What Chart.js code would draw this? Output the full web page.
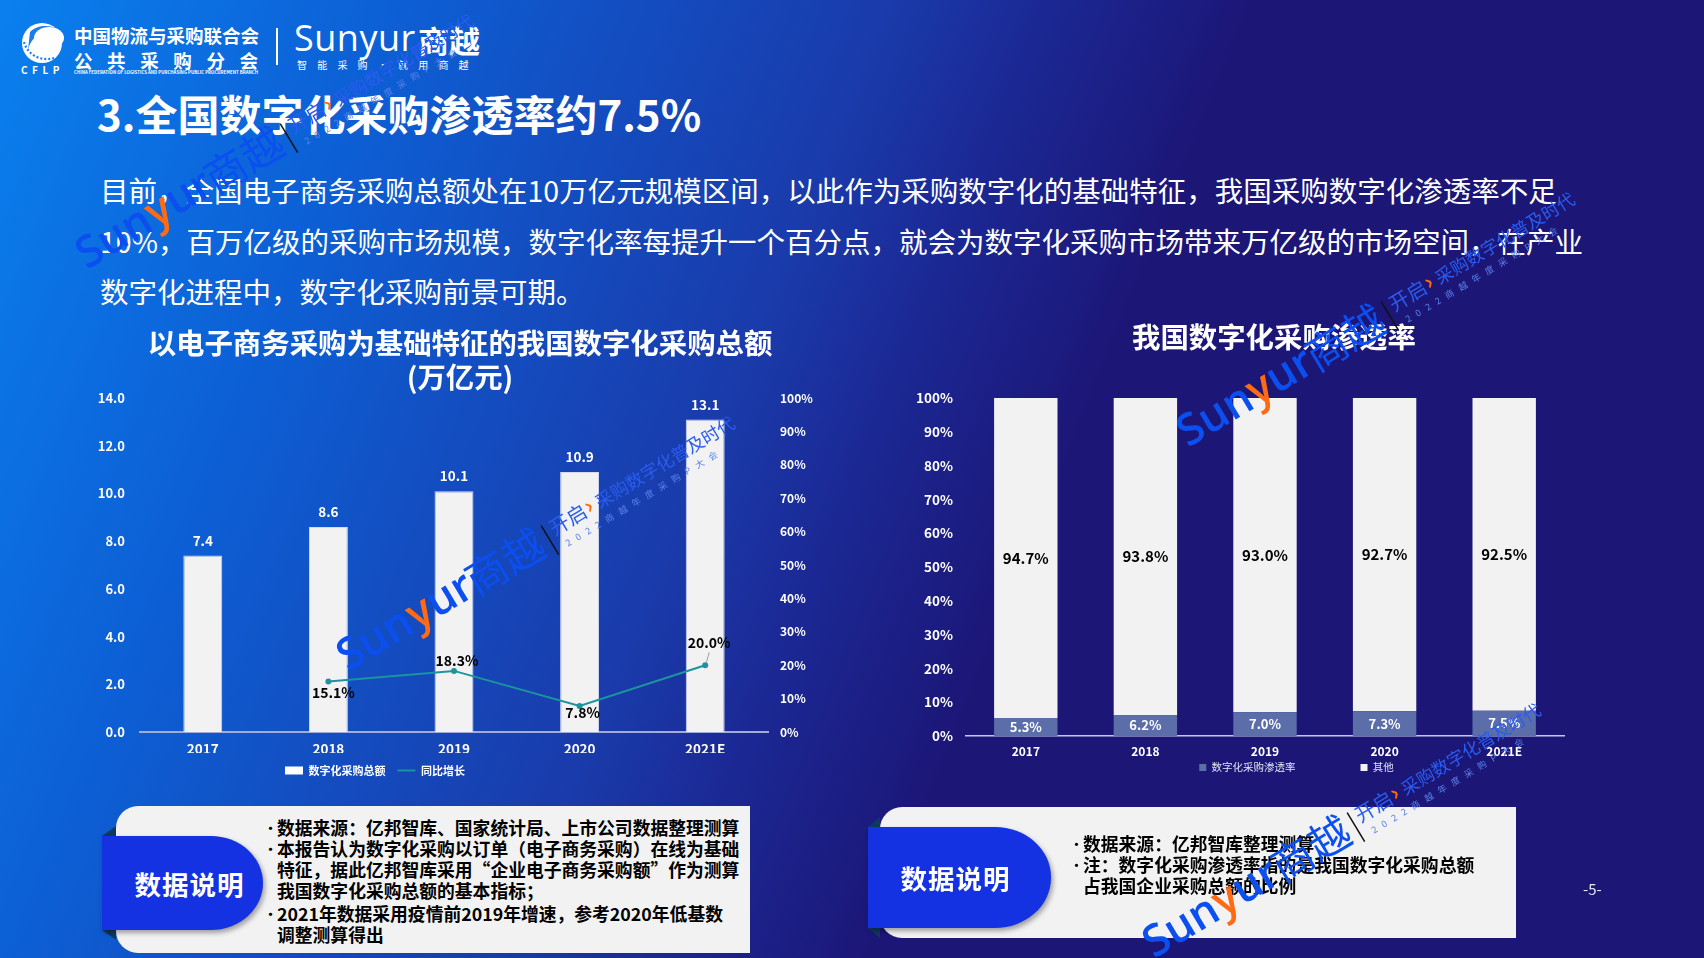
<!DOCTYPE html>
<html><head><meta charset="utf-8">
<script src="https://cdn.jsdelivr.net/npm/chart.js@4.4.0/dist/chart.umd.min.js"></script>
<style>
html,body{margin:0;padding:0;}
body{width:1704px;height:958px;overflow:hidden;position:relative;font-family:"Noto Sans CJK SC","Noto Sans",sans-serif;color:#fff;
background:linear-gradient(112deg,#0a80ee 0%,#0d5fd5 19%,#1a3aaa 43%,#1b2894 50%,#1c1677 60%,#1c1677 100%);}
.abs{position:absolute;white-space:nowrap;line-height:1;}
.panel{position:absolute;background:#f2f2f2;}
.pill{position:absolute;background:#1432e2;box-shadow:2px 3px 5px rgba(0,0,0,0.35);color:#fff;font-weight:bold;font-size:26.5px;display:flex;align-items:center;justify-content:center;letter-spacing:1px;}
.fold{position:absolute;background:#0f3a60;}
.notes{position:absolute;color:#000;font-weight:bold;font-size:17.8px;line-height:21px;white-space:nowrap;}
.notes .b{position:relative;padding-left:11px;}
.notes .b:before{content:"•";position:absolute;left:-2px;top:0;font-size:13px;}
.box{position:absolute;}
#wm{position:absolute;left:0;top:0;z-index:5;pointer-events:none;}
</style></head><body>

<!-- header -->
<svg class="abs" style="left:18px;top:20px" width="52" height="46" viewBox="0 0 52 46">
  <circle cx="24" cy="23" r="20" fill="#fff"/>
  <path d="M10 30 C 14 12, 34 6, 46 14 C 40 6, 22 2, 12 12 Z" fill="#1a7fee"/>
  <ellipse cx="31" cy="18" rx="15" ry="11" fill="#fff"/>
  <path d="M6 22 C 9 34, 22 42, 36 38" stroke="#1a7fee" stroke-width="2.2" fill="none" stroke-dasharray="2 2"/>
</svg>
<div class="abs" style="left:21px;top:65px;font-size:10px;font-weight:bold;letter-spacing:4.5px;">CFLP</div>
<div class="abs" style="left:74px;top:26px;font-size:18.5px;font-weight:bold;">中国物流与采购联合会</div>
<div class="abs" style="left:74px;top:51px;font-size:18.5px;font-weight:bold;letter-spacing:14.6px;">公共采购分会</div>
<div class="abs" style="left:74px;top:69.5px;font-size:9.2px;font-weight:bold;transform:scale(0.47,0.5);transform-origin:0 0;letter-spacing:0.1px;">CHINA FEDERATION OF LOGISTICS AND PURCHASING PUBLIC PROCUREMENT BRANCH</div>
<div class="abs" style="left:276px;top:28px;width:2px;height:37px;background:#fff;"></div>
<div class="abs" style="left:294px;top:20px;font-size:36px;font-family:'Open Sans',sans-serif;letter-spacing:0.5px;">Sunyur</div>
<div class="abs" style="left:418px;top:24px;font-size:31px;font-weight:bold;">商越</div>
<div class="abs" style="left:297px;top:60px;font-size:10px;letter-spacing:10.2px;">智能采购·就用商越</div>

<!-- title & paragraph -->
<div class="abs" style="left:97px;top:92px;font-size:42px;font-weight:bold;">3.全国数字化采购渗透率约7.5%</div>
<div class="abs" style="left:100px;top:165px;font-size:28.5px;line-height:50.5px;">目前，全国电子商务采购总额处在10万亿元规模区间，以此作为采购数字化的基础特征，我国采购数字化渗透率不足<br>10%，百万亿级的采购市场规模，数字化率每提升一个百分点，就会为数字化采购市场带来万亿级的市场空间，在产业<br>数字化进程中，数字化采购前景可期。</div>

<!-- charts -->
<div class="box" style="left:60px;top:310px;width:800px;height:476px;"><canvas id="c1"></canvas></div>
<div class="box" style="left:880px;top:310px;width:788px;height:532px;"><canvas id="c2"></canvas></div>

<!-- notes left -->
<div class="panel" style="left:116px;top:806px;width:634px;height:147px;border-radius:22px 0 0 22px;"></div>
<div class="fold" style="left:102px;top:826px;width:14px;height:10px;clip-path:polygon(0 100%,100% 0,100% 100%);"></div>
<div class="fold" style="left:102px;top:930px;width:14px;height:10px;clip-path:polygon(0 0,100% 0,100% 100%);"></div>
<div class="pill" style="left:102px;top:836px;width:161px;height:94px;border-radius:0 52px 52px 0 / 0 47px 47px 0;padding-left:14px;box-sizing:border-box;">数据说明</div>
<div class="notes" style="left:266px;top:817px;">
  <div class="b">数据来源：亿邦智库、国家统计局、上市公司数据整理测算</div>
  <div class="b">本报告认为数字化采购以订单（电子商务采购）在线为基础<br>特征，据此亿邦智库采用“企业电子商务采购额”作为测算<br>我国数字化采购总额的基本指标；</div>
  <div class="b" style="margin-top:2px;">2021年数据采用疫情前2019年增速，参考2020年低基数<br>调整测算得出</div>
</div>

<!-- notes right -->
<div class="panel" style="left:880px;top:807px;width:636px;height:131px;border-radius:22px 0 0 22px;"></div>
<div class="fold" style="left:868px;top:817px;width:12px;height:10px;clip-path:polygon(0 100%,100% 0,100% 100%);"></div>
<div class="fold" style="left:868px;top:928px;width:12px;height:10px;clip-path:polygon(0 0,100% 0,100% 100%);"></div>
<div class="pill" style="left:868px;top:827px;width:183px;height:101px;border-radius:0 56px 56px 0 / 0 50px 50px 0;padding-right:8px;box-sizing:border-box;">数据说明</div>
<div class="notes" style="left:1072px;top:833px;">
  <div class="b">数据来源：亿邦智库整理测算</div>
  <div class="b">注：数字化采购渗透率指的是我国数字化采购总额<br>占我国企业采购总额的比例</div>
</div>

<div class="abs" style="left:1583px;top:881px;font-size:15px;color:#e3e6f5;">-5-</div>

<!-- watermark overlay -->
<svg id="wm" width="1704" height="958">
  <defs>
    <g id="wmk" font-family="Noto Sans CJK SC, sans-serif">
      <text x="0" y="0" font-family="Open Sans, sans-serif" font-weight="600" font-size="44" fill="#0b4ff0">Sun<tspan fill="#ff6a13">y</tspan>ur</text>
      <text x="149" y="2" font-size="42" fill="#0b4ff0">商越</text>
      <line x1="241" y1="-26" x2="241" y2="8" stroke="#111" stroke-width="1.5"/>
      <text x="247" y="-10" font-size="20" fill="#2a5cf0">开启</text>
      <text x="288" y="-11" font-size="22" font-weight="bold" fill="#ff6a13">›</text>
      <text x="300" y="-10" font-size="17.7" fill="#2a5cf0">采购数字化普及时代</text>
      <text x="253" y="6" font-size="9" letter-spacing="6.5" fill="#5a82ea">2022商越年度采购P大会</text>
    </g>
  </defs>
  <use href="#wmk" transform="translate(87,270) rotate(-31)"/>
  <use href="#wmk" transform="translate(348,672) rotate(-31)"/>
  <use href="#wmk" transform="translate(1188,448) rotate(-31)"/>
  <use href="#wmk" transform="translate(1154,959) rotate(-31)"/>
</svg>

<script>
// ---------- data ----------
const years = ['2017', '2018', '2019', '2020', '2021E'];
const purchaseTotal = [7.4, 8.6, 10.1, 10.9, 13.1];          // 数字化采购总额 (万亿元)
const growthRate = [null, 15.1, 18.3, 7.8, 20.0];            // 同比增长 (%)
const amountTicks = [0, 2, 4, 6, 8, 10, 12, 14];
const growthTicks = [0, 10, 20, 30, 40, 50, 60, 70, 80, 90, 100];
const penetrationRate = [5.3, 6.2, 7.0, 7.3, 7.5];           // 数字化采购渗透率 (%)
const otherShare = [94.7, 93.8, 93.0, 92.7, 92.5];           // 其他 (%)
const shareTicks = [0, 10, 20, 30, 40, 50, 60, 70, 80, 90, 100];

const FONT = '"Noto Sans CJK SC", "Noto Sans", sans-serif';
Chart.defaults.font.family = FONT;
Chart.defaults.color = '#ffffff';
Chart.defaults.animation = false;

const useTicks = (arr) => (axis) => { axis.ticks = arr.map(v => ({ value: v })); };

// legend position shift
const legendShift = {
  id: 'legendShift',
  afterLayout(chart, args, opts) {
    const l = chart.legend; if (!l) return;
    const dx = opts.dx || 0, dy = opts.dy || 0;
    l.left += dx; l.right += dx; l.top += dy; l.bottom += dy;
  }
};

// value labels
const valueLabels = {
  id: 'valueLabels',
  afterDatasetsDraw(chart) {
    const ctx = chart.ctx;
    chart.data.datasets.forEach((ds, di) => {
      const cfg = ds.valueLabel; if (!cfg) return;
      const meta = chart.getDatasetMeta(di);
      if (meta.hidden) return;
      meta.data.forEach((el, i) => {
        const v = ds.data[i]; if (v == null) return;
        const p = el.getProps(['x', 'y', 'base'], true);
        let x = p.x, y;
        if (cfg.pos === 'top') y = p.y - cfg.offset;
        else if (cfg.pos === 'center') y = (p.y + p.base) / 2;
        else { x += cfg.dx[i]; y = p.y + cfg.dy[i]; }
        ctx.save();
        if (cfg.leader && cfg.leader[i]) {
          ctx.strokeStyle = '#a0a0a0'; ctx.lineWidth = 1;
          ctx.beginPath(); ctx.moveTo(x, y + 10); ctx.lineTo(p.x + 1, p.y - 2); ctx.stroke();
        }
        ctx.font = cfg.font; ctx.fillStyle = cfg.color;
        ctx.textAlign = 'center'; ctx.textBaseline = 'middle';
        ctx.fillText(cfg.format(v), x, y);
        ctx.restore();
      });
    });
  }
};

// ---------- chart 1 ----------
new Chart(document.getElementById('c1'), {
  data: {
    labels: years,
    datasets: [
      {
        type: 'bar', label: '数字化采购总额', data: purchaseTotal, yAxisID: 'y',
        backgroundColor: '#f2f2f2', borderColor: '#d6daf0', borderWidth: { top: 1, left: 1, right: 1, bottom: 0 },
        categoryPercentage: 1, barPercentage: 0.31, order: 1,
        valueLabel: { pos: 'top', offset: 15, font: 'bold 13.5px ' + FONT, color: '#ffffff', format: v => v.toFixed(1) }
      },
      {
        type: 'line', label: '同比增长', data: growthRate, yAxisID: 'y1', order: 0,
        borderColor: '#1b949d', backgroundColor: '#1b949d', borderWidth: 2,
        pointRadius: 3, pointBackgroundColor: '#1b949d', pointBorderWidth: 0, tension: 0,
        valueLabel: { pos: 'offset', dx: [0, 5, 3, 3, 4], dy: [0, 11, -10, 7, -23], leader: [false, false, false, false, true],
          font: 'bold 14px ' + FONT, color: '#000000', format: v => v.toFixed(1) + '%' }
      }
    ]
  },
  options: {
    responsive: true, maintainAspectRatio: false,
    layout: { padding: 0 },
    scales: {
      x: {
        grid: { display: false, drawTicks: false },
        border: { display: true, color: '#a3acd9', width: 2 },
        ticks: { padding: 9, color: '#ffffff', font: { size: 13.5, weight: 'bold' } },
        afterFit(s) { s.height = 21; }
      },
      y: {
        position: 'left', min: amountTicks[0], max: amountTicks[amountTicks.length - 1],
        afterBuildTicks: useTicks(amountTicks),
        grid: { display: false, drawTicks: false }, border: { display: false },
        ticks: { padding: 15, color: '#ffffff', font: { size: 13, weight: 'bold' }, callback: v => Number(v).toFixed(1) },
        afterFit(s) { s.width = 80; }
      },
      y1: {
        position: 'right', min: growthTicks[0], max: growthTicks[growthTicks.length - 1],
        afterBuildTicks: useTicks(growthTicks),
        grid: { display: false, drawTicks: false }, border: { display: false },
        ticks: { padding: 12, color: '#ffffff', font: { size: 12, weight: 'bold' }, callback: v => v + '%' },
        afterFit(s) { s.width = 92; }
      }
    },
    plugins: {
      title: {
        display: true, text: ['以电子商务采购为基础特征的我国数字化采购总额', '(万亿元)'],
        color: '#ffffff', font: { size: 28.4, weight: 'bold', lineHeight: 1.2 }, padding: { top: 16, bottom: 4 }
      },
      legend: {
        position: 'bottom',
        labels: {
          color: '#ffffff', font: { size: 11, weight: 'bold' }, padding: 12,
          usePointStyle: true, pointStyleWidth: 18, boxHeight: 8,
          sort: (a, b) => a.datasetIndex - b.datasetIndex,
          generateLabels(chart) {
            return Chart.defaults.plugins.legend.labels.generateLabels(chart).map(it => {
              if (it.datasetIndex === 0) { it.pointStyle = 'rect'; it.lineWidth = 0; it.fillStyle = '#ffffff'; }
              else { it.pointStyle = 'line'; it.lineWidth = 2; it.strokeStyle = '#1b949d'; }
              return it;
            });
          }
        }
      },
      legendShift: { dx: -85, dy: 0 },
      tooltip: { enabled: false }
    }
  },
  plugins: [legendShift, valueLabels]
});

// ---------- chart 2 ----------
new Chart(document.getElementById('c2'), {
  type: 'bar',
  data: {
    labels: years,
    datasets: [
      {
        label: '数字化采购渗透率', data: penetrationRate, backgroundColor: '#5b6ea9',
        categoryPercentage: 1, barPercentage: 0.53,
        valueLabel: { pos: 'center', font: 'bold 13px ' + FONT, color: '#ffffff', format: v => v.toFixed(1) + '%' }
      },
      {
        label: '其他', data: otherShare, backgroundColor: '#f2f2f2',
        categoryPercentage: 1, barPercentage: 0.53,
        valueLabel: { pos: 'center', font: 'bold 15px ' + FONT, color: '#000000', format: v => v.toFixed(1) + '%' }
      }
    ]
  },
  options: {
    responsive: true, maintainAspectRatio: false,
    layout: { padding: 0 },
    scales: {
      x: {
        stacked: true,
        grid: { display: false, drawTicks: false },
        border: { display: true, color: '#c3c8e8', width: 1.5 },
        ticks: { padding: 8, color: '#ffffff', font: { size: 12, weight: 'bold' } },
        afterFit(s) { s.height = 20.5; }
      },
      y: {
        stacked: true, position: 'left', min: shareTicks[0], max: shareTicks[shareTicks.length - 1],
        afterBuildTicks: useTicks(shareTicks),
        grid: { display: false, drawTicks: false }, border: { display: false },
        ticks: { padding: 13, color: '#ffffff', font: { size: 13.5, weight: 'bold' }, callback: v => v + '%' },
        afterFit(s) { s.width = 86; }
      },
      pad: {
        position: 'right', display: true,
        grid: { display: false, drawTicks: false }, border: { display: false },
        ticks: { display: false },
        afterFit(s) { s.width = 104; }
      }
    },
    plugins: {
      title: {
        display: true, text: '我国数字化采购渗透率',
        color: '#ffffff', font: { size: 28.4, weight: 'bold', lineHeight: 1.2 }, padding: { top: 10, bottom: 44 }
      },
      legend: {
        position: 'bottom',
        labels: {
          color: '#dfe2f4', font: { size: 10.5 }, padding: 65,
          usePointStyle: true, pointStyle: 'rect', pointStyleWidth: 7, boxHeight: 7,
          generateLabels(chart) {
            return Chart.defaults.plugins.legend.labels.generateLabels(chart).map(it => {
              it.pointStyle = 'rect'; it.lineWidth = 0; return it;
            });
          }
        }
      },
      legendShift: { dx: 22.5, dy: -59.25 },
      tooltip: { enabled: false }
    }
  },
  plugins: [legendShift, valueLabels]
});
</script>
</body></html>
